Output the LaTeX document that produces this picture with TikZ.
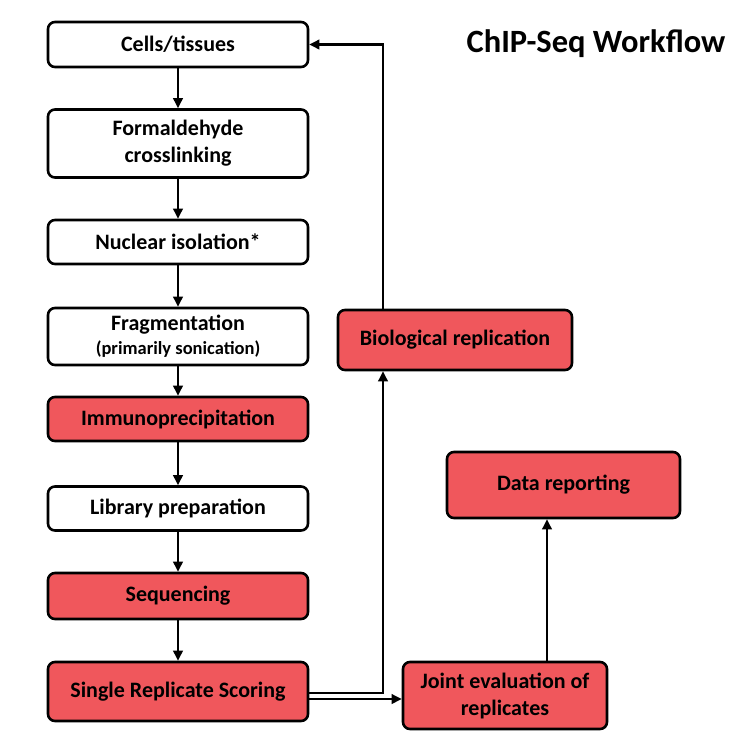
\documentclass[tikz,border=0pt]{standalone}
\usepackage{fontspec}
\setmainfont{Carlito}
\usetikzlibrary{arrows.meta}
\definecolor{stepred}{RGB}{240,87,92}
\tikzset{
  box/.style={draw=black, line width=2.6pt, rounded corners=7pt, align=center,
    font=\bfseries\fontsize{22}{27}\selectfont, inner sep=2pt},
  arr/.style={line width=2.1pt, -{Triangle[length=10pt,width=9.5pt]}}
}
\begin{document}
\begin{tikzpicture}[x=1pt, y=-1pt]
\useasboundingbox (0,0) rectangle (754,748);
% title
\node[font=\bfseries\fontsize{32.5}{38}\selectfont] (title) at (596,44) {ChIP-Seq Workflow};
% main column
\foreach \name/\y/\h/\col/\txt in {
  cells/44.5/45/white/{Cells/tissues},
  form/143.5/68/white/{Formaldehyde\\crosslinking},
  nuc/242/44/white/{Nuclear isolation*},
  frag/336.5/57/white/{Fragmentation\\[-3pt]{\fontsize{18.5}{22}\selectfont(primarily sonication)}},
  immuno/419/44/stepred/{Immunoprecipitation},
  lib/508.5/44/white/{Library preparation},
  seq/596/46/stepred/{Sequencing},
  srs/691.5/59/stepred/{Single Replicate Scoring}} {
  \node[box, fill=\col, minimum width=260pt, minimum height=\h pt] (\name) at (178,\y) {\txt};
}
\foreach \a/\b in {cells/form,form/nuc,nuc/frag,frag/immuno,immuno/lib,lib/seq,seq/srs} {
  \draw[arr] (\a) -- (\b);
}
% right side
\node[box, fill=stepred, minimum width=234pt, minimum height=60pt] (bio) at (455,340) {Biological replication};
\node[box, fill=stepred, minimum width=233pt, minimum height=66pt] (data) at (563.5,485) {Data reporting};
\node[box, fill=stepred, minimum width=204pt, minimum height=67pt] (joint) at (505,695.5) {Joint evaluation of\\replicates};
\coordinate (turn) at (383,0);
\draw[arr] ([yshift=-1.5pt]srs.east) -| (turn |- bio.south);
\draw[arr] (turn |- bio.north) |- (cells.east);
\draw[arr] ([yshift=-7.5pt]srs.east) -- ([yshift=-7.5pt]srs.east -| joint.west);
\draw[arr] ([xshift=42pt]joint.north) -- ([xshift=42pt]joint.north |- data.south);
\end{tikzpicture}
\end{document}
